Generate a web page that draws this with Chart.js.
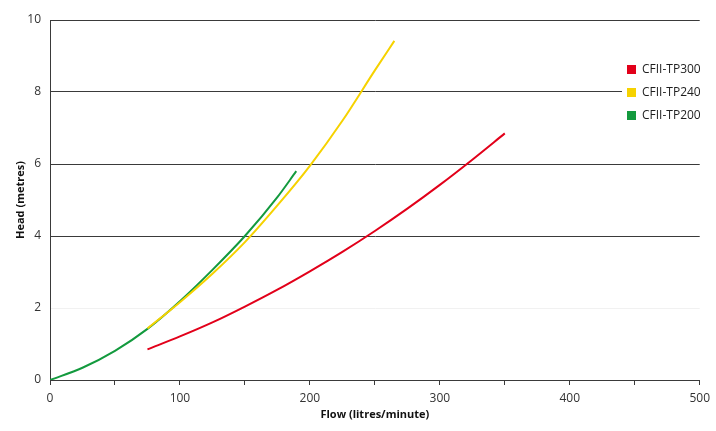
<!DOCTYPE html>
<html>
<head>
<meta charset="utf-8">
<script src="https://cdn.jsdelivr.net/npm/chart.js@4/dist/chart.umd.min.js"></script>
<style>
  html, body { margin: 0; padding: 0; background: #ffffff; }
  #wrap { width: 716px; height: 431px; }
</style>
</head>
<body>
<div id="wrap"><canvas id="c" width="716" height="431"></canvas></div>
<script>
// ---- Data ----
const seriesNames = ['CFII-TP300', 'CFII-TP240', 'CFII-TP200'];

const tp300Flow = [75, 100, 125, 150, 175, 200, 225, 250, 275, 300, 325, 350];
const tp300Head = [0.85, 1.21, 1.60, 2.04, 2.51, 3.02, 3.56, 4.14, 4.76, 5.42, 6.12, 6.85];

const tp240Flow = [75, 100, 125, 150, 175, 200, 225, 250, 265];
const tp240Head = [1.43, 2.16, 2.95, 3.83, 4.85, 5.95, 7.2, 8.6, 9.42];

const tp200Flow = [0, 25, 50, 75, 100, 125, 150, 175, 189.5];
const tp200Head = [0, 0.34, 0.81, 1.42, 2.19, 3.06, 4.0, 5.08, 5.8];

const xTickLabels = [0, 100, 200, 300, 400, 500];
const yTickLabels = [0, 2, 4, 6, 8, 10];

const colors = ['#e2001a', '#f6d200', '#139a3e'];

function pts(xs, ys) { return xs.map((x, i) => ({ x: x, y: ys[i] })); }

const seriesData = [pts(tp300Flow, tp300Head), pts(tp240Flow, tp240Head), pts(tp200Flow, tp200Head)];

const FONT = '"Open Sans", "Liberation Sans", sans-serif';
const AXIS = '#3a3a3a';

// Legend drawn over the plot area (with white background, interrupting gridline)
const overlayLegend = {
  id: 'overlayLegend',
  afterDraw(chart) {
    const ctx = chart.ctx;
    const x0 = 627, rowY = [69.5, 92.5, 115.5];
    ctx.save();
    ctx.fillStyle = '#ffffff';
    ctx.fillRect(622, 58, 90, 70);
    ctx.font = '12px ' + FONT;
    ctx.textBaseline = 'middle';
    ctx.textAlign = 'left';
    chart.data.datasets.forEach((ds, i) => {
      ctx.fillStyle = ds.borderColor;
      ctx.fillRect(x0, rowY[i] - 4.5, 9, 9);
      ctx.fillStyle = '#1e1e1e';
      ctx.fillText(ds.label, 642, rowY[i] + 0.5);
    });
    ctx.restore();
  }
};

new Chart(document.getElementById('c'), {
  type: 'line',
  data: {
    datasets: seriesNames.map((name, i) => ({
      label: name,
      data: seriesData[i],
      borderColor: colors[i],
      backgroundColor: colors[i],
      borderWidth: 2,
      pointRadius: 0,
      fill: false,
      cubicInterpolationMode: 'monotone'
    }))
  },
  options: {
    responsive: false,
    animation: false,
    layout: { padding: { left: 0, right: 15, top: 20, bottom: 0 } },
    plugins: { legend: { display: false }, tooltip: { enabled: false } },
    scales: {
      x: {
        type: 'linear',
        min: 0, max: 500,
        afterFit(scale) { scale.height = 51; },
        ticks: {
          stepSize: 50,
          autoSkip: false,
          maxRotation: 0,
          padding: 6,
          color: '#333333',
          font: { family: FONT, size: 12 },
          callback: (v) => xTickLabels.includes(v) ? String(v) : ''
        },
        grid: { drawOnChartArea: false, drawTicks: true, tickLength: 5, color: AXIS, lineWidth: 1 },
        border: { display: true, color: AXIS, width: 1 },
        title: {
          display: true,
          text: 'Flow (litres/minute)',
          color: '#111111',
          font: { family: FONT, size: 11, weight: 'bold' },
          padding: { top: 2, bottom: 10 }
        }
      },
      y: {
        min: 0, max: 10,
        afterFit(scale) { scale.width = 50; },
        ticks: {
          stepSize: 2,
          padding: 9,
          color: '#333333',
          font: { family: FONT, size: 12 },
          callback: (v) => yTickLabels.includes(v) ? String(v) : ''
        },
        grid: {
          drawTicks: false,
          color: (c) => (c.tick && c.tick.value === 2) ? '#f1f1f1' : AXIS,
          lineWidth: 1
        },
        border: { display: true, color: AXIS, width: 1 },
        title: {
          display: true,
          text: 'Head (metres)',
          color: '#111111',
          font: { family: FONT, size: 11, weight: 'bold' },
          padding: { top: 14, bottom: 4 }
        }
      }
    }
  },
  plugins: [overlayLegend]
});
</script>
</body>
</html>
